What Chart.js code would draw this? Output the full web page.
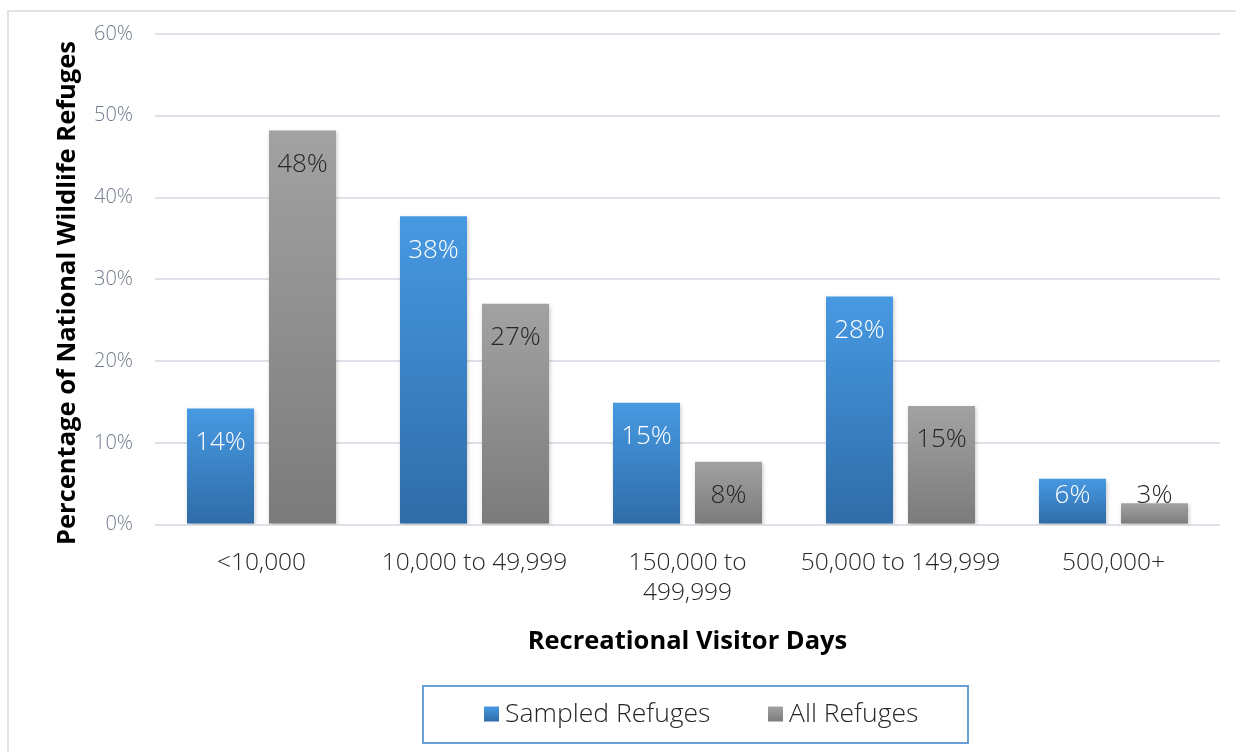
<!DOCTYPE html>
<html>
<head>
<meta charset="utf-8">
<script src="https://cdn.jsdelivr.net/npm/chart.js@4.4.0/dist/chart.umd.min.js"></script>
<style>
  html, body { margin: 0; padding: 0; background: #fff; overflow: hidden; }
  #frame { position: absolute; left: 7px; top: 10px; width: 1300px; height: 800px; border: 2px solid #e1e5ea; box-sizing: border-box; }
  #wrap { position: absolute; left: 0; top: 0; width: 1236px; height: 752px; }
</style>
</head>
<body>
<div id="frame"></div>
<div id="wrap"><canvas id="c" width="1236" height="752"></canvas></div>
<script>
const categories = ["<10,000", "10,000 to 49,999", ["150,000 to", "499,999"], "50,000 to 149,999", "500,000+"];
const sampledRefuges = [14.2, 37.7, 14.9, 27.9, 5.6];
const allRefuges = [48.2, 27.0, 7.7, 14.5, 2.6];
const sampledLabels = ["14%", "38%", "15%", "28%", "6%"];
const allLabels = ["48%", "27%", "8%", "15%", "3%"];
const yAxisTitle = "Percentage of National Wildlife Refuges";
const xAxisTitle = "Recreational Visitor Days";

const FONT = "'Open Sans', 'Noto Sans', sans-serif";
const BLUE = ['#4799e2', '#2f6ca8'];
const GRAY = ['#a2a2a2', '#7b7b7b'];

function barGradient(cols) {
  return function (ctx) {
    const chart = ctx.chart;
    const y = chart.scales && chart.scales.y;
    if (!y || !chart.chartArea || ctx.raw === undefined) return cols[0];
    const y0 = y.getPixelForValue(ctx.raw);
    const y1 = y.getPixelForValue(0);
    if (!isFinite(y0) || !isFinite(y1) || y0 === y1) return cols[0];
    const g = chart.ctx.createLinearGradient(0, y0, 0, y1);
    g.addColorStop(0, cols[0]);
    g.addColorStop(1, cols[1]);
    return g;
  };
}

const labelPlugin = {
  id: 'barLabels',
  afterDatasetsDraw(chart) {
    const ctx = chart.ctx;
    const base = chart.scales.y.getPixelForValue(0);
    const sets = [
      { labels: sampledLabels, color: '#ffffff' },
      { labels: allLabels, color: '#262626' }
    ];
    ctx.save();
    ctx.font = "300 26px " + FONT;
    ctx.textAlign = 'center';
    ctx.textBaseline = 'middle';
    sets.forEach((s, di) => {
      const meta = chart.getDatasetMeta(di);
      meta.data.forEach((bar, i) => {
        const cy = Math.min(bar.y + 34, base - 29);
        ctx.fillStyle = s.color;
        ctx.fillText(s.labels[i], bar.x, cy);
      });
    });
    ctx.restore();
  }
};

const shadowPlugin = {
  id: 'barShadow',
  beforeDatasetsDraw(chart) {
    const ctx = chart.ctx;
    ctx.save();
    ctx.shadowColor = 'rgba(0,0,0,0.22)';
    ctx.shadowBlur = 4;
    ctx.shadowOffsetX = 1;
    ctx.shadowOffsetY = 2;
  },
  afterDatasetsDraw(chart) {
    chart.ctx.restore();
  }
};

const yTitlePlugin = {
  id: 'yTitle',
  afterDraw(chart) {
    const ctx = chart.ctx;
    ctx.save();
    ctx.translate(68, 293);
    ctx.rotate(-Math.PI / 2);
    ctx.font = "bold 25.5px " + FONT;
    ctx.fillStyle = '#000';
    ctx.textAlign = 'center';
    ctx.textBaseline = 'middle';
    ctx.fillText(yAxisTitle, 0, 0);
    ctx.restore();
  }
};

const legendPlugin = {
  id: 'customLegend',
  afterDraw(chart) {
    const ctx = chart.ctx;
    ctx.save();
    ctx.strokeStyle = '#6a9fd6';
    ctx.lineWidth = 2;
    ctx.strokeRect(423, 686, 545, 57);
    const items = [
      { x: 484, cols: BLUE, text: chart.data.datasets[0].label },
      { x: 768, cols: GRAY, text: chart.data.datasets[1].label }
    ];
    const cy = 714;
    ctx.font = "300 26.5px " + FONT;
    ctx.textBaseline = 'middle';
    ctx.textAlign = 'left';
    items.forEach(it => {
      const g = ctx.createLinearGradient(0, cy - 7.5, 0, cy + 7.5);
      g.addColorStop(0, it.cols[0]);
      g.addColorStop(1, it.cols[1]);
      ctx.fillStyle = g;
      ctx.fillRect(it.x, cy - 7.5, 15, 15);
      ctx.fillStyle = '#262626';
      ctx.fillText(it.text, it.x + 21, cy);
    });
    ctx.restore();
  }
};

new Chart(document.getElementById('c'), {
  type: 'bar',
  data: {
    labels: categories,
    datasets: [
      {
        label: 'Sampled Refuges',
        data: sampledRefuges,
        backgroundColor: barGradient(BLUE),
        barPercentage: 0.817,
        categoryPercentage: 0.77
      },
      {
        label: 'All Refuges',
        data: allRefuges,
        backgroundColor: barGradient(GRAY),
        barPercentage: 0.817,
        categoryPercentage: 0.77
      }
    ]
  },
  options: {
    responsive: false,
    animation: false,
    devicePixelRatio: 1,
    layout: { padding: { left: 40, right: 16, top: 24, bottom: 95 } },
    plugins: {
      tooltip: { enabled: false },
      legend: { display: false }
    },
    scales: {
      x: {
        grid: { display: false },
        border: { display: false },
        ticks: {
          color: '#262626',
          padding: 16,
          maxRotation: 0,
          autoSkip: false,
          font: { family: FONT, size: 24.5, weight: '300' }
        },
        title: {
          display: true,
          text: xAxisTitle,
          color: '#000000',
          padding: { top: 3, bottom: 0 },
          font: { family: FONT, size: 25.5, weight: 'bold' }
        }
      },
      y: {
        min: 0,
        max: 60,
        afterFit(scale) { scale.width = 115; },
        grid: { color: '#dde2e8', lineWidth: 2, drawTicks: false },
        border: { display: false },
        ticks: {
          stepSize: 10,
          color: '#6f7b8c',
          padding: 22,
          font: { family: FONT, size: 20, weight: '300' },
          callback: (v) => v + '%'
        },
        title: { display: false }
      }
    }
  },
  plugins: [shadowPlugin, labelPlugin, yTitlePlugin, legendPlugin]
});
</script>
</body>
</html>
